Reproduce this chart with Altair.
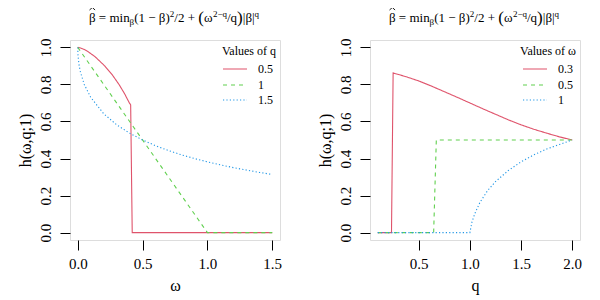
import altair as alt
import pandas as pd

FONT = "Liberation Serif"
COLORS = ["#DF536B", "#61D04F", "#2297E6"]
DASHES = [[1, 0], [4, 4], [1.2, 2.2]]

# ---- left panel data: h(omega, q; 1) against omega ----
left_series = ["0.5", "1", "1.5"]
om_q05 = [0.0, 0.02, 0.046, 0.073, 0.133, 0.208, 0.268, 0.318, 0.361, 0.398, 0.408, 0.42, 1.5]
h_q05 = [1.0, 0.997, 0.99, 0.98, 0.95, 0.9, 0.85, 0.8, 0.75, 0.7, 0.69, 0.0, 0.0]
om_q1 = [0.0, 1.0, 1.5]
h_q1 = [1.0, 0.0, 0.0]
om_q15 = [0.0, 0.001, 0.003, 0.01, 0.02, 0.05, 0.1, 0.2, 0.3, 0.4, 0.5, 0.6, 0.7,
          0.8, 0.9, 1.0, 1.1, 1.2, 1.3, 1.4, 1.5]
h_q15 = [1.0, 0.969, 0.947, 0.905, 0.868, 0.8, 0.73, 0.642, 0.582, 0.537, 0.5, 0.469,
         0.443, 0.42, 0.4, 0.382, 0.366, 0.351, 0.338, 0.325, 0.314]

# ---- right panel data: h(omega, q; 1) against q ----
right_series = ["0.3", "0.5", "1"]
q_w03 = [0.1, 0.234, 0.25, 0.375, 0.5, 0.625, 0.75, 0.875, 1.0, 1.125, 1.25, 1.375,
         1.5, 1.625, 1.75, 1.875, 2.0]
h_w03 = [0.0, 0.0, 0.862, 0.842, 0.819, 0.791, 0.761, 0.731, 0.7, 0.669, 0.639, 0.609,
         0.582, 0.558, 0.537, 0.517, 0.5]
q_w05 = [0.1, 0.646, 0.672, 2.0]
h_w05 = [0.0, 0.0, 0.5, 0.5]
q_w1 = [0.1, 0.99, 1.0, 1.02, 1.05, 1.1, 1.175, 1.25, 1.375, 1.5, 1.625, 1.75, 1.875, 2.0]
h_w1 = [0.0, 0.0, 0.0, 0.056, 0.105, 0.165, 0.228, 0.275, 0.335, 0.382, 0.42, 0.451,
        0.476, 0.5]

y_ticks = [0.0, 0.2, 0.4, 0.6, 0.8, 1.0]
left_ticks = [0.0, 0.5, 1.0, 1.5]
right_ticks = [0.5, 1.0, 1.5, 2.0]


def make_df(names, xs_list, hs_list):
    rows = []
    for name, xs, hs in zip(names, xs_list, hs_list):
        for i, (x, h) in enumerate(zip(xs, hs)):
            rows.append({"series": name, "x": x, "h": h, "i": i})
    return pd.DataFrame(rows)


left_df = make_df(left_series, [om_q05, om_q1, om_q15], [h_q05, h_q1, h_q15])
right_df = make_df(right_series, [q_w03, q_w05, q_w1], [h_w03, h_w05, h_w1])

ONE = pd.DataFrame({"a": [0]})

W, H = 210, 200


def text_piece(txt, x, y, size, align="left", baseline="alphabetic"):
    return alt.Chart(ONE).mark_text(
        font=FONT, fontSize=size, align=align, baseline=baseline, color="black"
    ).encode(x=alt.value(x), y=alt.value(y), text=alt.value(txt))


def seg(x1, y1, x2, y2):
    return alt.Chart(ONE).mark_rule(color="black", strokeWidth=0.9).encode(
        x=alt.value(x1), y=alt.value(y1), x2=alt.value(x2), y2=alt.value(y2)
    )


def title_layers():
    S, s, B = 13, 9, 17
    pieces = [
        ("β = min", S, 0, 40.6),
        ("β", s, 3, 4.6),
        ("(1 − β)", S, 0, 35.5),
        ("2", s, -5, 4.6),
        ("/2 +", S, 0, 23.9),
        ("(", B, 1, 5.7),
        ("ω", S, 0, 9.0),
        ("2−q", s, -5, 14.1),
        ("/q", S, 0, 10.1),
        (")", B, 1, 5.7),
        ("|β|", S, 0, 11.7),
        ("q", s, -5, 4.6),
    ]
    x = 19.0
    base = -18.5
    # the hat over beta
    out = [seg(x + 0.5, base - 11.5, x + 3.3, base - 14), seg(x + 3.3, base - 14, x + 6.1, base - 11.5)]
    for txt, size, dy, w in pieces:
        out.append(text_piece(txt, x, base + dy, size))
        x += w
    return out


def legend_layers(title, names):
    out = [text_piece(title, 206, 11, 12, align="right", baseline="middle")]
    ys = [29, 45, 60]
    for name, col, dash, yy in zip(names, COLORS, DASHES, ys):
        out.append(
            alt.Chart(ONE).mark_rule(color=col, strokeWidth=1.2, strokeDash=dash)
            .encode(x=alt.value(153), x2=alt.value(177), y=alt.value(yy))
        )
        out.append(text_piece(name, 188, yy, 12, baseline="middle"))
    return out


def panel(df, names, xdomain, xticks, xtitle, legend_title):
    xaxis = alt.Axis(
        values=xticks, format=".1f", title=xtitle, domain=False, grid=False,
        tickSize=10, tickColor="black", labelColor="black", labelFont=FONT,
        labelFontSize=15, labelPadding=6, titleFont=FONT, titleFontSize=16,
        titleFontWeight="normal", titleColor="black", titleX=W / 2, titleY=45,
        titleBaseline="middle",
    )
    yaxis = alt.Axis(
        values=y_ticks, format=".1f", title="h(ω,q;1)", domain=False, grid=False,
        tickSize=10, tickColor="black", labelColor="black", labelFont=FONT,
        labelFontSize=15, labelAngle=270, labelAlign="center",
        labelBaseline="alphabetic", labelPadding=10, titleFont=FONT,
        titleFontSize=16, titleFontWeight="normal", titleColor="black",
        titleAngle=270, titleX=-45, titleY=H / 2, titleBaseline="middle",
        titleAlign="center",
    )
    lines = alt.Chart(df).mark_line(strokeWidth=1.1, clip=True).encode(
        x=alt.X("x:Q", scale=alt.Scale(domain=xdomain, nice=False, zero=False), axis=xaxis),
        y=alt.Y("h:Q", scale=alt.Scale(domain=[-0.04, 1.04], nice=False, zero=False), axis=yaxis),
        color=alt.Color("series:N", scale=alt.Scale(domain=names, range=COLORS), legend=None),
        strokeDash=alt.StrokeDash("series:N", scale=alt.Scale(domain=names, range=DASHES), legend=None),
        order="i:Q",
    )
    return alt.layer(lines, *title_layers(), *legend_layers(legend_title, names)).properties(
        width=W, height=H
    )


left = panel(left_df, left_series, [-0.06, 1.56], left_ticks, "ω", "Values of q")
right = panel(right_df, right_series, [0.024, 2.076], right_ticks, "q", "Values of ω")

chart = alt.hconcat(left, right, spacing=90, bounds="flush").resolve_scale(
    color="independent", strokeDash="independent"
).properties(
    autosize=alt.AutoSizeParams(type="none"),
    padding={"left": 62, "top": 32, "right": 522, "bottom": 252},
).configure_view(stroke="#333", strokeWidth=1.4).configure(background="white")

chart.save("out.html", embed_options={"renderer": "svg", "actions": False})
